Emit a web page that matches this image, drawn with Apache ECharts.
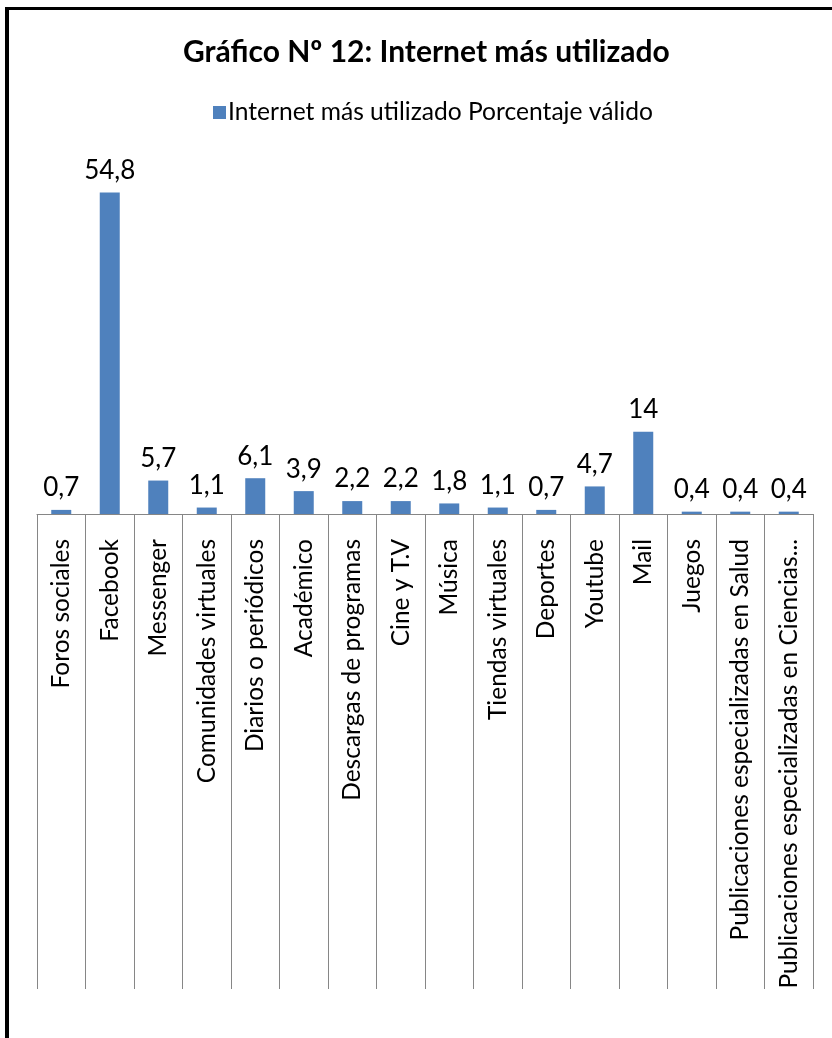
<!DOCTYPE html>
<html>
<head>
<meta charset="utf-8">
<script src="https://cdn.jsdelivr.net/npm/echarts@6/dist/echarts.min.js"></script>
<style>
html,body{margin:0;padding:0;background:#fff;}
#chart{width:832px;height:1038px;}
</style>
</head>
<body>
<div id="chart"></div>
<script>
var titleText = 'Gráfico Nº 12: Internet más utilizado';
var seriesName = 'Internet más utilizado Porcentaje válido';
var categories = [
  'Foros sociales', 'Facebook', 'Messenger', 'Comunidades virtuales',
  'Diarios o periódicos', 'Académico', 'Descargas de programas', 'Cine y T.V',
  'Música', 'Tiendas virtuales', 'Deportes', 'Youtube', 'Mail', 'Juegos',
  'Publicaciones especializadas en Salud', 'Publicaciones especializadas en Ciencias...'
];
var values = [0.7, 54.8, 5.7, 1.1, 6.1, 3.9, 2.2, 2.2, 1.8, 1.1, 0.7, 4.7, 14, 0.4, 0.4, 0.4];

var FONT = 'Lato';
var chart = echarts.init(document.getElementById('chart'), null, {renderer: 'canvas'});
chart.setOption({
  backgroundColor: '#ffffff',
  animation: false,
  title: {
    text: titleText,
    left: 183,
    top: 37,
    padding: 0,
    textStyle: {fontFamily: FONT, fontWeight: 'bold', fontSize: 30, color: '#000'}
  },
  legend: {
    data: [seriesName],
    left: 213,
    top: 100,
    padding: 0,
    itemWidth: 13,
    itemHeight: 13,
    icon: 'rect',
    textStyle: {fontFamily: FONT, fontSize: 24.6, color: '#000', padding: [0, 0, 0, -3]}
  },
  grid: {left: 37, right: 19, top: 162, bottom: 524, containLabel: false},
  xAxis: {
    type: 'category',
    data: categories,
    axisLine: {lineStyle: {color: '#868686', width: 1}},
    axisTick: {show: true, length: 475, interval: 0, lineStyle: {color: '#868686', width: 1}},
    axisLabel: {
      interval: 0,
      rotate: 90,
      margin: 25,
      fontFamily: FONT,
      fontSize: 24.5,
      color: '#000'
    }
  },
  yAxis: {
    type: 'value',
    min: 0,
    max: 60,
    show: false,
    splitLine: {show: false}
  },
  series: [{
    name: seriesName,
    type: 'bar',
    data: values,
    barWidth: 20,
    itemStyle: {color: '#4F81BD'},
    label: {
      show: true,
      position: 'top',
      distance: 9,
      fontFamily: FONT,
      fontSize: 26,
      color: '#000',
      formatter: function (p) { return String(p.value).replace('.', ','); }
    }
  }],
  graphic: [
    {type: 'rect', shape: {x: 5, y: 7, width: 4, height: 1031}, style: {fill: '#000'}, z: 100},
    {type: 'rect', shape: {x: 5, y: 7, width: 827, height: 3}, style: {fill: '#000'}, z: 100}
  ]
});
</script>
</body>
</html>
